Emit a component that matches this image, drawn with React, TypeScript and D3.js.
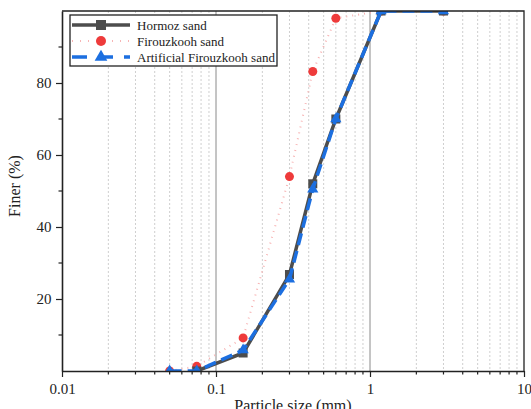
import React, { useEffect, useRef } from "react";
import * as d3 from "d3";

// sieve sizes (mm)
const sizes = [0.05, 0.075, 0.15, 0.3, 0.425, 0.6, 1.18, 3];
const hormoz = [null, 0, 5, 26.8, 52, 70, 100, 100];
const firouzkooh = [0, 1.3, 9.2, 54, 83.2, 98, 100, 100];
const artificial = [0, 0, 5.8, 25.5, 50.5, 70, 100, 100];

const xTicks = [0.01, 0.1, 1, 10];
const xTickLabels = ["0.01", "0.1", "1", "10"];
const yTicks = [20, 40, 60, 80];
const yMinorTicks = [10, 30, 50, 70, 90];

const seriesNames = ["Hormoz sand", "Firouzkooh sand", "Artificial Firouzkooh sand"];

const App = () => {
  const ref = useRef<SVGSVGElement>(null);

  useEffect(() => {
    const width = 531;
    const height = 409;
    const margin = { top: 11, right: 7, bottom: 38, left: 62 };
    const innerWidth = width - margin.left - margin.right;
    const innerHeight = height - margin.top - margin.bottom;
    const font = "'Liberation Serif', 'Times New Roman', serif";

    const svg = d3.select(ref.current);
    svg.selectAll("*").remove();

    svg.append("defs").append("clipPath").attr("id", "plotclip")
      .append("rect").attr("x", 0).attr("y", 0).attr("width", innerWidth).attr("height", innerHeight);

    const g = svg.append("g").attr("transform", `translate(${margin.left},${margin.top})`);

    const x = d3.scaleLog().domain([0.01, 10]).range([0, innerWidth]);
    const y = d3.scaleLinear().domain([0, 100]).range([innerHeight, 0]);

    // vertical grid
    const minor: number[] = [];
    [0.01, 0.1, 1].forEach(d => { for (let k = 2; k <= 9; k++) minor.push(d * k); });
    g.selectAll(".gminor").data(minor).join("line")
      .attr("x1", d => x(d)).attr("x2", d => x(d))
      .attr("y1", 0).attr("y2", innerHeight)
      .attr("stroke", "#cfcfcf").attr("stroke-width", 1).attr("stroke-dasharray", "2,2");
    g.selectAll(".gmajor").data([0.1, 1]).join("line")
      .attr("x1", d => x(d)).attr("x2", d => x(d))
      .attr("y1", 0).attr("y2", innerHeight)
      .attr("stroke", "#8a8a8a").attr("stroke-width", 1);

    const clip = g.append("g").attr("clip-path", "url(#plotclip)");

    const line = d3.line<[number, number | null]>()
      .defined(d => d[1] !== null)
      .x(d => x(d[0]))
      .y(d => y(d[1] as number));

    // Firouzkooh (red)
    const fData = sizes.map((s, i) => [s, firouzkooh[i]] as [number, number]);
    clip.append("path").datum(fData).attr("d", line as any)
      .attr("fill", "none").attr("stroke", "#f7b4b4").attr("stroke-width", 2)
      .attr("stroke-dasharray", "1,5");
    clip.selectAll(".fdot").data(fData).join("circle")
      .attr("cx", d => x(d[0])).attr("cy", d => y(d[1])).attr("r", 4.5)
      .attr("fill", "#ee3b3b");

    // Hormoz (dark gray)
    const hData = sizes.map((s, i) => [s, hormoz[i]] as [number, number | null]);
    clip.append("path").datum(hData).attr("d", line as any)
      .attr("fill", "none").attr("stroke", "#4d4d4d").attr("stroke-width", 3.5);
    clip.selectAll(".hsq").data(hData.filter(d => d[1] !== null)).join("rect")
      .attr("x", d => x(d[0]) - 4.5).attr("y", d => y(d[1] as number) - 4.5)
      .attr("width", 9).attr("height", 9).attr("fill", "#4d4d4d");

    // Artificial (blue)
    const aData = sizes.map((s, i) => [s, artificial[i]] as [number, number]);
    clip.append("path").datum(aData).attr("d", line as any)
      .attr("fill", "none").attr("stroke", "#1c6fe0").attr("stroke-width", 3.5)
      .attr("stroke-dasharray", "12,6");
    const tri = d3.symbol().type(d3.symbolTriangle).size(55);
    clip.selectAll(".atri").data(aData).join("path")
      .attr("d", tri as any)
      .attr("transform", d => `translate(${x(d[0])},${y(d[1])})`)
      .attr("fill", "#1c6fe0");

    // frame top/right
    g.append("path")
      .attr("d", `M0,0H${innerWidth}V${innerHeight}`)
      .attr("fill", "none").attr("stroke", "#222").attr("stroke-width", 1.3);

    // axes
    const xAxis = d3.axisBottom(x).tickValues(xTicks).tickFormat((d, i) => xTickLabels[i]).tickSize(6).tickSizeOuter(0);
    const gx = g.append("g").attr("transform", `translate(0,${innerHeight})`).call(xAxis);
    gx.selectAll(".xminor").data(minor).join("line")
      .attr("x1", d => x(d)).attr("x2", d => x(d)).attr("y1", 0).attr("y2", 3.5)
      .attr("stroke", "#222").attr("stroke-width", 1.2);

    const yAxis = d3.axisLeft(y).tickValues(yTicks).tickSize(6).tickSizeOuter(0);
    const gy = g.append("g").call(yAxis);
    gy.selectAll(".yminor").data(yMinorTicks).join("line")
      .attr("x1", 0).attr("x2", -3.5).attr("y1", d => y(d)).attr("y2", d => y(d))
      .attr("stroke", "#222").attr("stroke-width", 1.2);

    [gx, gy].forEach(a => {
      a.select(".domain").attr("stroke", "#222").attr("stroke-width", 1.6);
      a.selectAll(".tick line").attr("stroke", "#222").attr("stroke-width", 1.2);
      a.selectAll(".tick text").attr("font-family", font).attr("font-size", 15).attr("fill", "#222");
    });
    gx.selectAll(".tick text").attr("dy", "0.95em");
    gy.selectAll(".tick text").attr("dx", "-0.1em");

    // axis titles
    g.append("text")
      .attr("x", innerWidth / 2).attr("y", innerHeight + 40)
      .attr("text-anchor", "middle")
      .attr("font-family", font).attr("font-size", 16).attr("fill", "#222")
      .text("Particle size (mm)");
    g.append("text")
      .attr("transform", `translate(${-42},${innerHeight / 2 - 5}) rotate(-90)`)
      .attr("text-anchor", "middle")
      .attr("font-family", font).attr("font-size", 16).attr("fill", "#222")
      .text("Finer (%)");

    // legend
    const lg = g.append("g").attr("transform", "translate(8,4)");
    lg.append("rect").attr("x", 0).attr("y", 0).attr("width", 207).attr("height", 51)
      .attr("fill", "white").attr("stroke", "#222").attr("stroke-width", 1.3);
    const rowY = (i: number) => 10 + i * 16;
    // row 0
    lg.append("line").attr("x1", 2).attr("x2", 60).attr("y1", rowY(0)).attr("y2", rowY(0))
      .attr("stroke", "#4d4d4d").attr("stroke-width", 3.5);
    lg.append("rect").attr("x", 31 - 5).attr("y", rowY(0) - 5).attr("width", 10).attr("height", 10).attr("fill", "#4d4d4d");
    // row 1
    lg.append("line").attr("x1", 2).attr("x2", 60).attr("y1", rowY(1)).attr("y2", rowY(1))
      .attr("stroke", "#f7b4b4").attr("stroke-width", 2).attr("stroke-dasharray", "1,7");
    lg.append("circle").attr("cx", 31).attr("cy", rowY(1)).attr("r", 5).attr("fill", "#ee3b3b");
    // row 2
    lg.append("line").attr("x1", 2).attr("x2", 60).attr("y1", rowY(2)).attr("y2", rowY(2))
      .attr("stroke", "#1c6fe0").attr("stroke-width", 3.5).attr("stroke-dasharray", "15,11");
    lg.append("path").attr("d", d3.symbol().type(d3.symbolTriangle).size(70) as any)
      .attr("transform", `translate(31,${rowY(2)})`).attr("fill", "#1c6fe0");
    lg.selectAll(".ltext").data(seriesNames).join("text")
      .attr("x", 67).attr("y", (d, i) => rowY(i)).attr("dy", "0.35em")
      .attr("font-family", font).attr("font-size", 13).attr("fill", "#222")
      .text(d => d);
  }, []);

  return (
    <svg ref={ref} width={531} height={409} style={{ position: "absolute", left: 0, top: 0 }} />
  );
};

export default App;
